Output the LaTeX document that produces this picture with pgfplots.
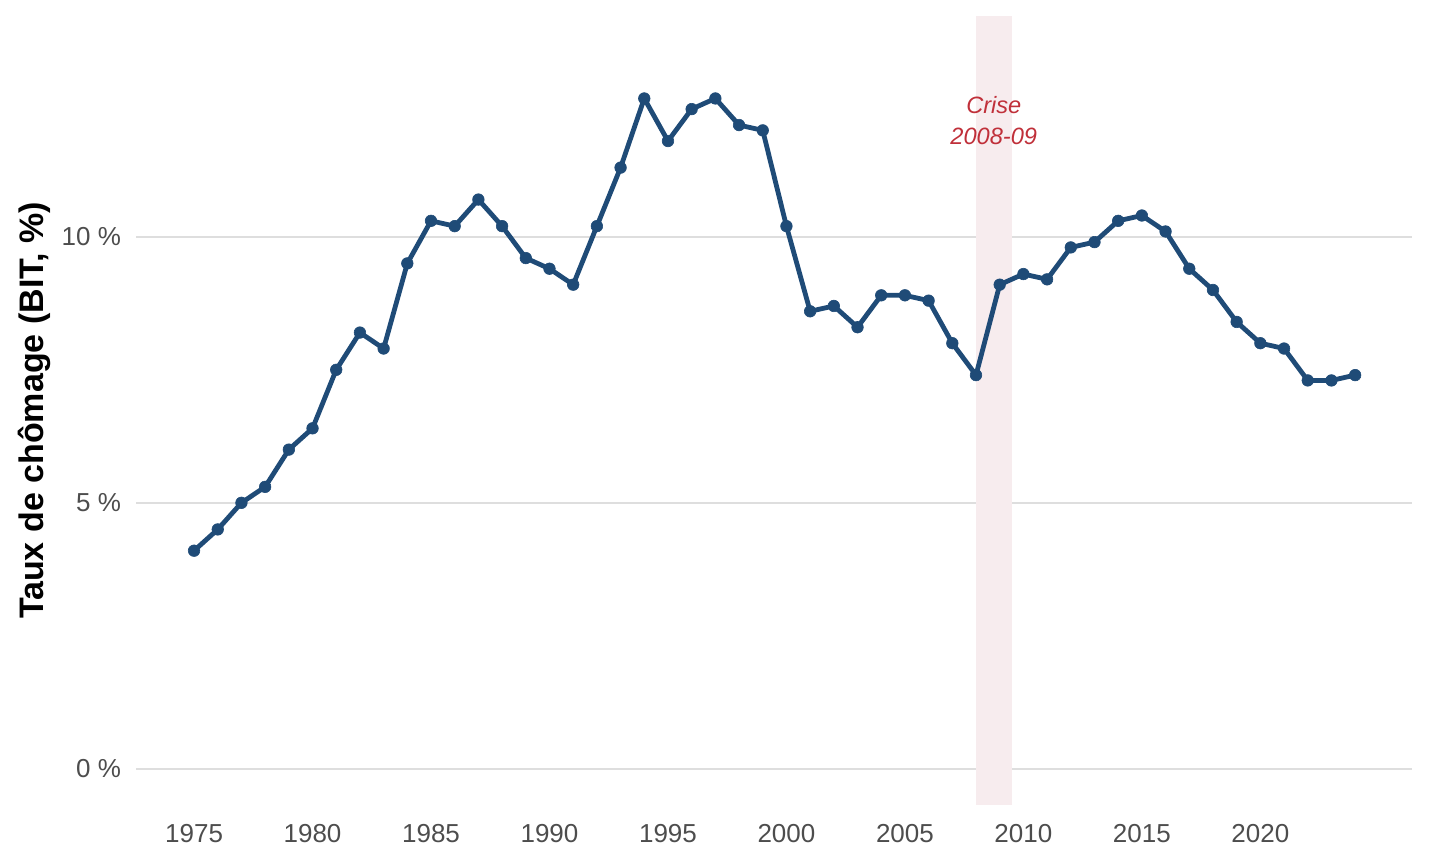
\documentclass[border=0pt]{standalone}
\usepackage{pgfplots}
\pgfplotsset{compat=1.18}
\usepackage{fontspec}
\setmainfont{Liberation Sans}
\definecolor{linecol}{HTML}{1F4B77}
\definecolor{shadecol}{HTML}{F7ECEE}
\definecolor{anncol}{HTML}{C0303A}
\definecolor{tickcol}{HTML}{4D4D4D}
\definecolor{gridcol}{HTML}{DEDEDE}
\pgfplotstableread{
year rate
1975 4.1
1976 4.5
1977 5.0
1978 5.3
1979 6.0
1980 6.4
1981 7.5
1982 8.2
1983 7.9
1984 9.5
1985 10.3
1986 10.2
1987 10.7
1988 10.2
1989 9.6
1990 9.4
1991 9.1
1992 10.2
1993 11.3
1994 12.6
1995 11.8
1996 12.4
1997 12.6
1998 12.1
1999 12.0
2000 10.2
2001 8.6
2002 8.7
2003 8.3
2004 8.9
2005 8.9
2006 8.8
2007 8.0
2008 7.4
2009 9.1
2010 9.3
2011 9.2
2012 9.8
2013 9.9
2014 10.3
2015 10.4
2016 10.1
2017 9.4
2018 9.0
2019 8.4
2020 8.0
2021 7.9
2022 7.3
2023 7.3
2024 7.4
}\datatable
\begin{document}
\begin{tikzpicture}
\useasboundingbox (0,0) rectangle (720pt,432pt);
\begin{axis}[
  at={(68pt,29.5pt)}, anchor=south west,
  scale only axis, width=638pt, height=394.5pt,
  xmin=1972.55, xmax=2026.4, ymin=-0.68, ymax=14.15,
  axis line style={draw=none},
  xtick={1975,1980,...,2020},
  ytick={0,5,10},
  yticklabels={0 \%,5 \%,10 \%},
  /pgf/number format/1000 sep={},
  /pgf/number format/assume math mode=true,
  tick style={draw=none},
  ticklabel style={font=\fontsize{13}{15}\selectfont, text=tickcol},
  xticklabel style={yshift=-6pt},
  yticklabel style={xshift=-4pt},
  ymajorgrids, grid style={gridcol, line width=1pt},
  ylabel={Taux de chômage (BIT, \%)},
  ylabel style={font=\fontsize{17}{19}\selectfont\bfseries, at={(axis description cs:-0.080,0.5)}, anchor=center},
  clip=false,
]
\fill[shadecol] (axis cs:2008,-0.68) rectangle (axis cs:2009.5,14.15);
\addplot[linecol, line width=2.4pt, mark=*, mark size=2.9pt, mark options={solid, fill=linecol, draw=linecol, line width=0.3pt}] table[x=year, y=rate] {\datatable};
\node[anncol, font=\fontsize{11.8}{13}\selectfont\itshape] at (axis cs:2008.75,12.48) {Crise};
\node[anncol, font=\fontsize{11.8}{13}\selectfont\itshape] at (axis cs:2008.75,11.88) {2008-09};
\end{axis}
\end{tikzpicture}
\end{document}
